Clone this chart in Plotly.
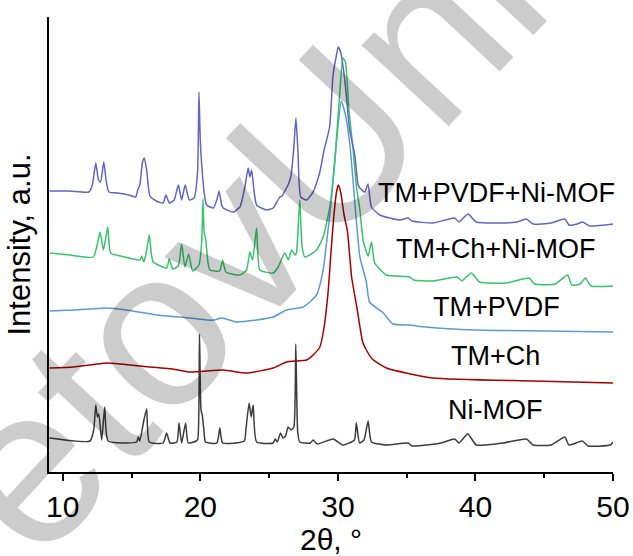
import plotly.graph_objects as go

# 2theta positions and intensities (a.u.)
ni_mof_x = [9.03, 11.98, 12.25, 12.4, 12.52, 12.62, 12.83, 13.05, 13.3, 15.37, 15.49, 15.6, 15.9, 16.1, 16.29,
            17.3, 17.55, 17.8, 18.3, 18.45, 18.64, 18.93, 19.12, 19.7, 19.82, 19.94, 20.05, 20.14, 20.26, 20.38,
            21.2, 21.42, 21.62, 23.2, 23.31, 23.55, 23.7, 23.84, 24.09, 25.3, 25.44, 25.6, 25.83, 26.0, 26.2,
            26.38, 26.6, 26.8, 26.94, 27.08, 27.23, 28.0, 28.2, 28.5, 29.65, 30.37, 31.2, 31.34, 31.58, 31.9,
            32.2, 32.44, 33.53, 35.1, 35.4, 37.5, 38.5, 38.8, 39.45, 40.06, 42.0, 43.7, 44.2, 45.5, 46.5, 46.8,
            47.76, 48.2, 49.8, 50.0]
ni_mof_y = [34, 31, 42, 67, 55, 58, 32, 65, 31, 30, 35, 31, 52, 63, 30,
            29, 39, 29, 30, 49, 29, 49, 29, 31, 33, 138, 62, 57, 42, 30,
            29, 44, 29, 31, 42, 69, 55, 67, 30, 29, 33, 30, 39, 34, 36,
            45, 42, 45, 128, 40, 30, 29, 32, 28, 33, 27, 32, 49, 29, 32,
            51, 30, 27, 29, 26, 29, 33, 29, 38, 27, 29, 33, 27, 27, 35, 27,
            31, 26, 27, 30]

tm_ch_x = [9.03, 10.77, 13.2, 15.6, 18.0, 19.24, 21.66, 23.36, 25.3, 26.27, 27.72, 28.2, 28.69, 29.0, 29.29,
           29.5, 29.7, 29.9, 30.03, 30.2, 30.45, 30.7, 31.0, 31.4, 31.8, 32.07, 32.5, 33.53, 36.9, 44.2, 50.0]
tm_ch_y = [104, 105, 109, 106, 103, 100, 102, 99, 104, 110, 112, 117, 125, 145, 180,
           220, 255, 280, 287, 280, 257, 240, 195, 163, 130, 122, 113, 104, 94, 91, 89]

tm_pvdf_x = [9.03, 10.77, 12.0, 13.2, 14.65, 16.83, 19.24, 20.46, 21.0, 21.55, 22.64, 24.09, 25.3, 26.27, 27.48,
             28.45, 28.93, 29.2, 29.53, 29.9, 30.25, 30.55, 30.86, 31.35, 31.6, 32.07, 32.3, 33.3, 34.0, 35.2,
             36.4, 40.0, 45.0, 50.0]
tm_pvdf_y = [161, 162, 163, 164, 162, 157, 154, 152, 152, 154, 150, 152, 155, 162, 165,
             177, 202, 232, 272, 330, 371, 357, 329, 250, 215, 190, 170, 159, 148, 147,
             145, 142, 141, 140]

tm_ch_mof_x = [9.08, 10.5, 12.22, 12.5, 12.71, 12.95, 13.1, 13.27, 13.49, 14.5, 15.61, 15.74, 15.9, 16.1, 16.29,
               16.45, 16.58, 17.55, 17.74, 17.99, 18.4, 18.64, 18.88, 19.15, 19.44, 19.9, 20.1, 20.19, 20.28,
               20.4, 20.55, 20.7, 21.4, 21.62, 21.86, 22.88, 23.36, 23.6, 23.8, 24.09, 24.33, 25.3, 25.66, 26.14,
               26.4, 26.63, 26.9, 27.0, 27.23, 27.4, 27.6, 28.45, 28.93, 29.41, 29.78, 30.14, 30.37, 30.55, 30.8,
               31.11, 31.35, 31.6, 31.83, 32.2, 32.44, 32.68, 33.53, 35.2, 35.5, 36.9, 38.7, 39.0, 39.7, 40.3,
               42.24, 43.9, 44.3, 45.8, 46.7, 47.0, 47.6, 48.0, 48.4, 50.0]
tm_ch_mof_y = [219, 217, 215, 227, 240, 222, 232, 245, 219, 215, 212, 216, 210, 222, 237,
               217, 210, 204, 213, 203, 206, 228, 205, 218, 201, 207, 230, 273, 240,
               232, 210, 202, 201, 212, 200, 197, 202, 220, 212, 244, 202, 199, 205, 219,
               212, 222, 217, 220, 272, 225, 215, 222, 235, 265, 312, 379, 414, 410, 362,
               322, 285, 262, 232, 216, 230, 209, 197, 195, 192, 191, 195, 191, 199, 190,
               189, 194, 188, 188, 197, 187, 188, 194, 186, 186]

tm_pvdf_mof_x = [9.03, 10.5, 11.9, 12.15, 12.4, 12.6, 12.75, 12.98, 13.15, 13.35, 14.0, 14.8, 15.3, 15.45, 15.6,
                 15.8, 15.93, 16.1, 16.34, 16.8, 17.3, 17.5, 17.75, 18.1, 18.4, 18.64, 18.9, 19.2, 19.55, 19.8,
                 19.9, 20.0, 20.14, 20.3, 20.46, 20.94, 21.2, 21.37, 21.55, 21.66, 22.39, 22.88, 23.1, 23.24,
                 23.48, 23.6, 23.73, 23.9, 24.09, 24.82, 25.3, 25.78, 25.95, 26.1, 26.38, 26.6, 26.8, 26.95, 27.1,
                 27.3, 27.72, 28.2, 28.45, 28.69, 29.0, 29.4, 29.65, 29.9, 30.03, 30.2, 30.5, 30.86, 31.23, 31.47,
                 31.6, 31.95, 32.19, 32.44, 33.04, 34.5, 35.1, 35.4, 36.9, 38.5, 38.8, 39.45, 40.06, 41.76, 43.0,
                 43.7, 44.2, 45.5, 46.5, 46.8, 47.4, 47.8, 48.3, 50.0]
tm_pvdf_mof_y = [281, 281, 280, 287, 309, 292, 290, 310, 292, 280, 279, 277, 275, 282, 287,
                 310, 314, 302, 276, 271, 269, 277, 269, 272, 287, 272, 287, 272, 274, 300,
                 380, 330, 300, 277, 267, 264, 272, 281, 267, 264, 260, 265, 276, 285,
                 304, 295, 302, 282, 267, 262, 264, 275, 276, 280, 287, 297, 325, 354, 320,
                 275, 272, 280, 289, 300, 322, 345, 397, 417, 425, 420, 392, 342, 317, 287,
                 284, 280, 288, 265, 257, 252, 254, 251, 249, 254, 250, 258, 250, 249, 250,
                 253, 248, 249, 253, 247, 248, 250, 246, 248]

series_names = ["Ni-MOF", "TM+Ch", "TM+PVDF", "TM+Ch+Ni-MOF", "TM+PVDF+Ni-MOF"]
series_x = [ni_mof_x, tm_ch_x, tm_pvdf_x, tm_ch_mof_x, tm_pvdf_mof_x]
series_y = [ni_mof_y, tm_ch_y, tm_pvdf_y, tm_ch_mof_y, tm_pvdf_mof_y]
series_colors = ["#3c3c3c", "#a80000", "#5b9bd5", "#36c46c", "#6464c4"]
label_x = [41.45, 41.45, 41.5, 41.5, 41.5]
label_y = [62, 116, 165, 223, 279]

x_ticks = [10, 20, 30, 40, 50]

fig = go.Figure()
for name, xs, ys, col in zip(series_names, series_x, series_y, series_colors):
    fig.add_trace(go.Scatter(x=xs, y=ys, mode="lines", name=name,
                             line=dict(color=col, width=1.5, shape="spline", smoothing=0.5),
                             showlegend=False))

for name, lx, ly in zip(series_names, label_x, label_y):
    fig.add_annotation(x=lx, y=ly, text=name, showarrow=False,
                       font=dict(family="Liberation Sans, Arial", size=27, color="black"),
                       xanchor="center", yanchor="middle")

# watermark
fig.add_annotation(xref="paper", yref="paper", x=0.34, y=0.52, text="etovUni",
                   showarrow=False, textangle=-47,
                   font=dict(family="Liberation Sans, Arial", size=225, color="rgba(0,0,0,0.2)"),
                   xanchor="center", yanchor="middle")

fig.update_layout(
    width=633, height=556,
    margin=dict(l=49, r=20, t=17, b=84, autoexpand=False),
    paper_bgcolor="white", plot_bgcolor="white",
    font=dict(family="Liberation Sans, Arial", color="black"),
    xaxis=dict(range=[9, 50], tickvals=x_ticks, ticks="outside", ticklen=7, tickwidth=1.5,
               tickcolor="black", showline=True, linecolor="black", linewidth=1.5,
               showgrid=False, zeroline=False, tickfont=dict(size=30), automargin=False,
               ticklabelstandoff=0,
               minor=dict(tick0=0, dtick=5, ticks="outside", ticklen=4, tickwidth=1.5, tickcolor="black"),
               title=dict(text="2θ, °", font=dict(size=30), standoff=14)),
    yaxis=dict(range=[0, 455], showticklabels=False, ticks="", showline=True, linecolor="black",
               linewidth=1.5, showgrid=False, zeroline=False, automargin=False,
               title=dict(text="Intensity, a.u.", font=dict(size=31), standoff=7)),
)

fig.write_html("out.html")
